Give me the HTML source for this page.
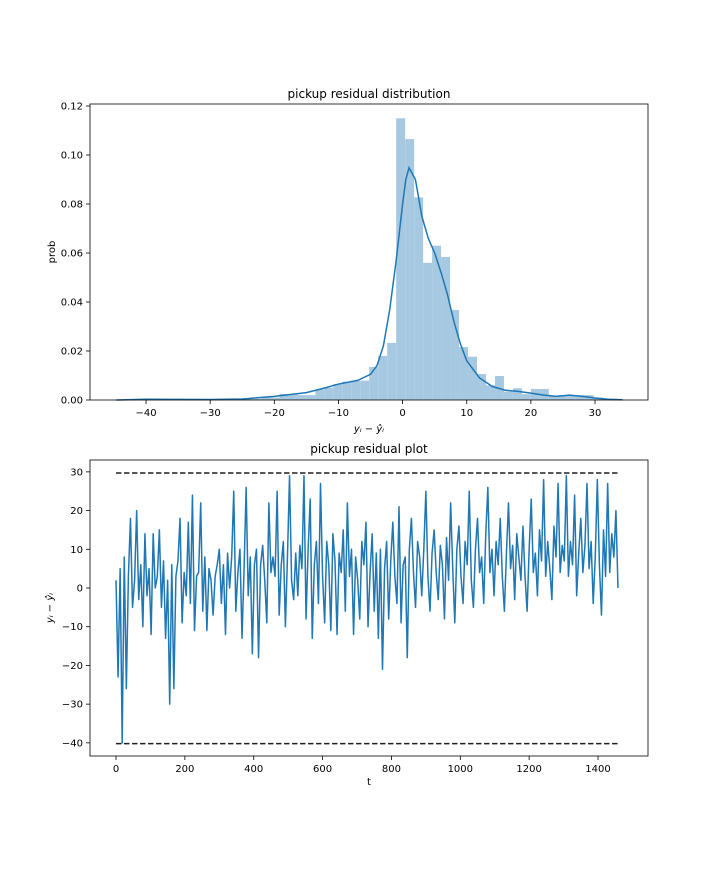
<!DOCTYPE html>
<html><head><meta charset="utf-8"><style>
body{margin:0;background:#fff}
svg{font-family:"DejaVu Sans","Liberation Sans",sans-serif;}
</style></head><body>
<svg id="fig" width="720" height="864" viewBox="0 0 720 864" xmlns="http://www.w3.org/2000/svg">
<rect width="720" height="864" fill="#fff"/>
<g id="topChart"></g>
<g id="botChart"></g>
</svg>
<script>
const binStart=-44.4, binWidth=1.4;
const histValues=[0,0,0.0002,0.0002,0.0002,0,0,0,0,0,0,0,0.0003,0.0005,0.0005,0.0005,0.001,
0.001,0.0025,0.0022,0.002,0.002,0.0043,0.005,0.0065,0.0075,0.0078,0.0079,0.0135,0.018,0.0233,
0.115,0.1065,0.0827,0.056,0.063,0.0584,0.0367,0.0216,0.0177,0.0106,0.006,0.0098,0.0034,0.0048,0.0024,0.0045,0.0045,0.0016,0.002,0.002,0.002,0.002,0.001,0.0005,0.0003];
const kdeX=[-44.6,-40,-30,-25,-20,-15,-12,-10,-7,-5,-4,-3,-2,-1,0,0.5,1,2,3,4,5,6,7,8,9,10,12,14,16,18,20,22,24,26,28,30,32,34.3];
const kdeY=[0,0.0003,0.0002,0.0004,0.0015,0.003,0.005,0.0065,0.008,0.0105,0.014,0.022,0.037,0.057,0.08,0.09,0.0948,0.09,0.075,0.066,0.06,0.052,0.043,0.032,0.023,0.016,0.009,0.0055,0.004,0.0035,0.0028,0.002,0.0015,0.002,0.0015,0.0008,0.0003,0.0001];
const topXTicks=[-40,-30,-20,-10,0,10,20,30];
const topYTicks=[0,0.02,0.04,0.06,0.08,0.10,0.12];
const tStep=6;
const residuals=[2,-23,5,-40,8,-26,3,18,-5,2,
20,-3,6,-10,14,-2,5,-12,14,0,
3,15,-5,7,-13,2,-30,6,-26,3,
7,18,-9,4,-2,17,-4,24,-11,3,
4,22,-6,8,-11,5,2,-7,3,6,
10,-4,6,-12,9,0,8,25,-6,4,
10,-13,5,26,-2,8,-17,6,10,-18,
6,11,2,-9,22,4,8,3,25,-7,
6,12,-10,8,29,2,-3,9,-2,11,
5,29,-8,10,23,-13,6,12,-4,27,
3,-9,12,6,-11,14,7,-12,9,4,
15,-6,22,3,10,-12,8,2,-8,12,
6,17,-10,4,14,-6,9,-13,10,-21,
5,12,-8,7,17,3,-4,21,-9,6,
8,-18,10,18,4,-5,12,8,-2,10,
25,3,-6,9,15,4,-3,11,6,-8,
13,2,22,5,-9,10,16,3,-4,12,
6,25,2,-5,10,18,4,8,-4,14,
26,4,10,-2,12,6,18,3,-6,9,
22,5,11,-3,14,8,2,16,3,-6,
10,23,4,9,-2,15,7,28,3,12,
5,-3,16,8,27,4,11,7,29,3,
12,6,24,-2,9,18,4,11,27,5,
12,-4,8,28,6,-7,15,3,27,4,
14,8,20,0];
const bounds=[29.7,-40.2];
const botXTicks=[0,200,400,600,800,1000,1200,1400];
const botYTicks=[-40,-30,-20,-10,0,10,20,30];

const NS="http://www.w3.org/2000/svg";
function mk(p,tag,attrs,txt){const e=document.createElementNS(NS,tag);for(const k in attrs)e.setAttribute(k,attrs[k]);if(txt!==undefined)e.textContent=txt;p.appendChild(e);return e;}
const topG=document.getElementById('topChart');
const TL=90,TR=648,TT=104,TB=400;
const tx=v=>402.6+v*6.414, ty=v=>400-v*2450;
histValues.forEach((v,i)=>{const x0=tx(binStart+i*binWidth),x1=tx(binStart+(i+1)*binWidth);
 const r=mk(topG,'rect',{x:x0,y:ty(v),width:x1-x0,height:TB-ty(v),fill:'#a6c8e0'});
 
 });
const kp=mk(topG,'polyline',{points:kdeX.map((x,i)=>tx(x)+','+ty(kdeY[i])).join(' '),fill:'none',stroke:'#1f77b4','stroke-width':1.5});


mk(topG,'rect',{x:TL,y:TT,width:TR-TL,height:TB-TT,fill:'none',stroke:'#000','stroke-width':0.8,});
topXTicks.forEach(v=>{const x=tx(v);mk(topG,'line',{x1:x,x2:x,y1:TB,y2:TB+4,stroke:'#000','stroke-width':0.8});
 const t=mk(topG,'text',{x:x,y:TB+16,'font-size':10,'text-anchor':'middle'},String(v).replace('-','−'));
 
 });
topYTicks.forEach(v=>{const y=ty(v);mk(topG,'line',{x1:TL-4,x2:TL,y1:y,y2:y,stroke:'#000','stroke-width':0.8});
 const t=mk(topG,'text',{x:TL-7,y:y+3.5,'font-size':10,'text-anchor':'end'},v.toFixed(2));
 
 });
mk(topG,'text',{x:369,y:98,'font-size':12,'text-anchor':'middle',},'pickup residual distribution');
mk(topG,'text',{x:369,y:432,'font-size':10,'text-anchor':'middle','font-style':'italic',},'y\u1D62 − ŷ\u1D62');
mk(topG,'text',{x:0,y:0,'font-size':10,'text-anchor':'middle',transform:'translate(55,252) rotate(-90)',},'prob');
const botG=document.getElementById('botChart');
const BL=90,BR=648,BT=460,BB=756;
const bx=v=>116+v*0.3443, by=v=>588-v*3.871;
bounds.forEach(b=>{const l=mk(botG,'line',{x1:bx(0),x2:bx(1460),y1:by(b),y2:by(b),stroke:'#222','stroke-width':1.5,'stroke-dasharray':'5.5,2.5'});
 
 });
const rl=mk(botG,'polyline',{points:residuals.map((v,i)=>bx(i*tStep)+','+by(v)).join(' '),fill:'none',stroke:'#1f77b4','stroke-width':1.5,'stroke-linejoin':'round'});


mk(botG,'rect',{x:BL,y:BT,width:BR-BL,height:BB-BT,fill:'none',stroke:'#000','stroke-width':0.8,});
botXTicks.forEach(v=>{const x=bx(v);mk(botG,'line',{x1:x,x2:x,y1:BB,y2:BB+4,stroke:'#000','stroke-width':0.8});
 const t=mk(botG,'text',{x:x,y:BB+16,'font-size':10,'text-anchor':'middle'},String(v));
 
 });
botYTicks.forEach(v=>{const y=by(v);mk(botG,'line',{x1:BL-4,x2:BL,y1:y,y2:y,stroke:'#000','stroke-width':0.8});
 const t=mk(botG,'text',{x:BL-7,y:y+3.5,'font-size':10,'text-anchor':'end'},String(v).replace('-','−'));
 
 });
mk(botG,'text',{x:369,y:453,'font-size':12,'text-anchor':'middle',},'pickup residual plot');
mk(botG,'text',{x:369,y:785,'font-size':10,'text-anchor':'middle',},'t');
mk(botG,'text',{x:0,y:0,'font-size':10,'text-anchor':'middle','font-style':'italic',transform:'translate(53,608) rotate(-90)',},'y\u1D62 − ŷ\u1D62');
</script>
</body></html>
